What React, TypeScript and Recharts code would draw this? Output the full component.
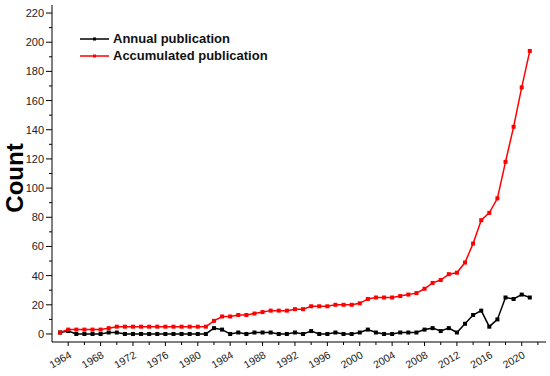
import { LineChart, Line, XAxis, YAxis } from "recharts";

const years = [
  1963, 1964, 1965, 1966, 1967, 1968, 1969, 1970, 1971, 1972, 1973, 1974, 1975,
  1976, 1977, 1978, 1979, 1980, 1981, 1982, 1983, 1984, 1985, 1986, 1987, 1988,
  1989, 1990, 1991, 1992, 1993, 1994, 1995, 1996, 1997, 1998, 1999, 2000, 2001,
  2002, 2003, 2004, 2005, 2006, 2007, 2008, 2009, 2010, 2011, 2012, 2013, 2014,
  2015, 2016, 2017, 2018, 2019, 2020, 2021,
];

const annual = [
  1, 2, 0, 0, 0, 0, 1, 1, 0, 0, 0, 0, 0, 0, 0, 0, 0, 0, 0, 4, 3, 0, 1, 0, 1, 1,
  1, 0, 0, 1, 0, 2, 0, 0, 1, 0, 0, 1, 3, 1, 0, 0, 1, 1, 1, 3, 4, 2, 4, 1, 7, 13,
  16, 5, 10, 25, 24, 27, 25,
];

const accumulated = [
  1, 3, 3, 3, 3, 3, 4, 5, 5, 5, 5, 5, 5, 5, 5, 5, 5, 5, 5, 9, 12, 12, 13, 13, 14,
  15, 16, 16, 16, 17, 17, 19, 19, 19, 20, 20, 20, 21, 24, 25, 25, 25, 26, 27, 28,
  31, 35, 37, 41, 42, 49, 62, 78, 83, 93, 118, 142, 169, 194,
];

const xTicks = [
  1964, 1966, 1968, 1970, 1972, 1974, 1976, 1978, 1980, 1982, 1984, 1986, 1988,
  1990, 1992, 1994, 1996, 1998, 2000, 2002, 2004, 2006, 2008, 2010, 2012, 2014,
  2016, 2018, 2020, 2022,
];
const xLabels = [
  1964, 1968, 1972, 1976, 1980, 1984, 1988, 1992, 1996, 2000, 2004, 2008, 2012,
  2016, 2020,
];
const yTicks = [
  0, 10, 20, 30, 40, 50, 60, 70, 80, 90, 100, 110, 120, 130, 140, 150, 160, 170,
  180, 190, 200, 210, 220,
];
const yLabels = [0, 20, 40, 60, 80, 100, 120, 140, 160, 180, 200, 220];

const data = years.map((year, i) => ({
  year,
  annual: annual[i],
  accumulated: accumulated[i],
}));

const FONT = "Arial, 'Liberation Sans', sans-serif";

function XTick({ x, y, payload }: any) {
  const major = xLabels.includes(payload.value);
  const tx = x + 4;
  const ty = y + 15;
  return (
    <g>
      <line x1={x} y1={y} x2={x} y2={y + (major ? 4 : 3)} stroke="#000" />
      {major && (
        <text
          x={tx}
          y={ty}
          textAnchor="end"
          fontSize={10.5}
          fontFamily={FONT}
          fill="#222"
          transform={`rotate(-30 ${tx} ${ty})`}
        >
          {payload.value}
        </text>
      )}
    </g>
  );
}

function YTick({ x, y, payload }: any) {
  const major = yLabels.includes(payload.value);
  return (
    <g>
      <line x1={x - (major ? 6 : 3)} y1={y} x2={x} y2={y} stroke="#000" />
      {major && (
        <text
          x={x - 8}
          y={y + 4}
          textAnchor="end"
          fontSize={11}
          fontFamily={FONT}
          fill="#222"
        >
          {payload.value}
        </text>
      )}
    </g>
  );
}

function squareDot(color: string, size: number) {
  return (p: any) => (
    <rect
      key={`${color}-${p.index}`}
      x={p.cx - size / 2}
      y={p.cy - size / 2}
      width={size}
      height={size}
      fill={color}
    />
  );
}

function LegendRow({ color, label }: { color: string; label: string }) {
  return (
    <div style={{ display: "flex", alignItems: "center", height: 17 }}>
      <svg width={33} height={10}>
        <line x1={0} y1={5} x2={29} y2={5} stroke={color} strokeWidth={1.5} />
        <rect x={13} y={3.5} width={3} height={3} fill={color} />
      </svg>
      <span
        style={{
          fontFamily: FONT,
          fontWeight: "bold",
          fontSize: 13,
          color: "#111",
        }}
      >
        {label}
      </span>
    </div>
  );
}

export default function App() {
  return (
    <div
      style={{
        position: "absolute",
        left: 0,
        top: 0,
        width: 550,
        height: 376,
        background: "#fff",
      }}
    >
      <LineChart
        width={550}
        height={376}
        data={data}
        margin={{ top: 5, right: 4, left: 0, bottom: 0 }}
      >
        <XAxis
          xAxisId="top"
          orientation="top"
          dataKey="year"
          type="number"
          domain={[1962, 2023]}
          height={0}
          tick={false}
          tickLine={false}
          axisLine={{ stroke: "#777" }}
        />
        <YAxis
          yAxisId="right"
          orientation="right"
          domain={[-5.5, 225.5]}
          width={0}
          tick={false}
          tickLine={false}
          axisLine={{ stroke: "#777" }}
        />
        <XAxis
          dataKey="year"
          type="number"
          domain={[1962, 2023]}
          ticks={xTicks}
          interval={0}
          height={34}
          tickSize={0}
          tickMargin={0}
          tickLine={false}
          axisLine={{ stroke: "#000" }}
          tick={<XTick />}
        />
        <YAxis
          domain={[-5.5, 225.5]}
          ticks={yTicks}
          interval={0}
          width={52}
          tickSize={0}
          tickMargin={0}
          tickLine={false}
          axisLine={{ stroke: "#000" }}
          tick={<YTick />}
          label={() => (
            <text
              x={23}
              y={178}
              textAnchor="middle"
              fontSize={24}
              fontWeight="bold"
              fontFamily={FONT}
              fill="#000"
              transform="rotate(-90 23 178)"
            >
              Count
            </text>
          )}
        />
        <Line
          dataKey="annual"
          stroke="#000"
          strokeWidth={1.5}
          dot={squareDot("#000", 4)}
          activeDot={false}
          isAnimationActive={false}
        />
        <Line
          dataKey="accumulated"
          stroke="#ff0000"
          strokeWidth={1.5}
          dot={squareDot("#ff0000", 4)}
          activeDot={false}
          isAnimationActive={false}
        />
      </LineChart>
      <div style={{ position: "absolute", left: 80, top: 30 }}>
        <LegendRow color="#000" label="Annual publication" />
        <LegendRow color="#ff0000" label="Accumulated publication" />
      </div>
    </div>
  );
}
